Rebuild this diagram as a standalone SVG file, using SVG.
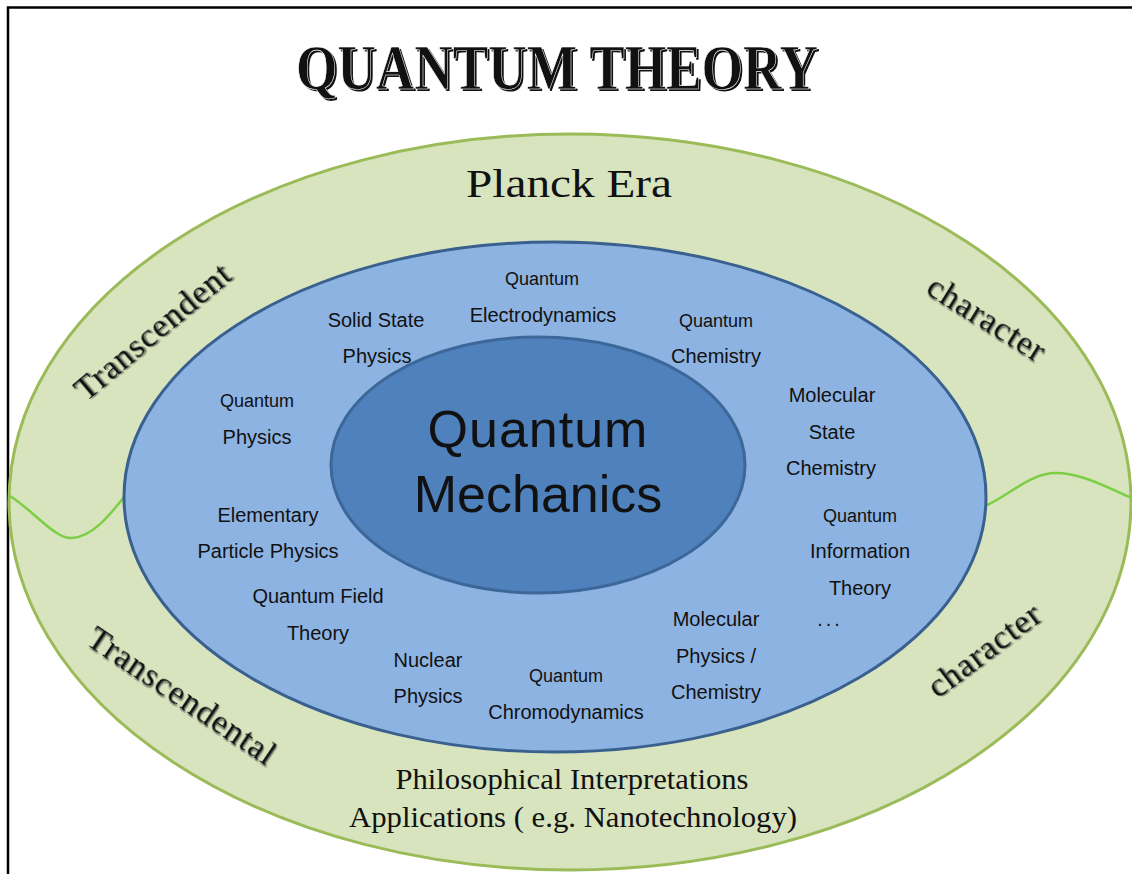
<svg xmlns="http://www.w3.org/2000/svg" width="1132" height="874" viewBox="0 0 1132 874">
<defs>
<style>
.hand{font-family:"Liberation Sans","DejaVu Sans",sans-serif;fill:#111;text-anchor:middle}
.s{font-size:18px}
.m{font-size:20px}
.ser{font-family:"Liberation Serif","DejaVu Serif",serif;fill:#111;text-anchor:middle}
.arc{font-size:34px;letter-spacing:1px}
</style>
<filter id="sh" x="-10%" y="-30%" width="120%" height="160%">
<feDropShadow dx="1.5" dy="1.5" stdDeviation="0.6" flood-color="#555" flood-opacity="0.8"/>
</filter>
</defs>
<rect x="0" y="0" width="1132" height="874" fill="#ffffff"/>
<path d="M8,874 L8,7.5 L1132,7.5" fill="none" stroke="#000" stroke-width="2.5"/>

<g id="title">
<text x="557" y="89" class="ser" font-size="64" font-weight="bold" textLength="522" lengthAdjust="spacingAndGlyphs" fill="#999" transform="translate(2,2)">QUANTUM THEORY</text>
<text x="557" y="89" class="ser" font-size="64" font-weight="bold" textLength="522" lengthAdjust="spacingAndGlyphs" stroke="#fff" stroke-width="0.6">QUANTUM THEORY</text>
</g>

<g id="outer">
<ellipse cx="570" cy="502" rx="561" ry="368" fill="#d7e4bd" stroke="#9bbb59" stroke-width="3"/>
</g>
<g id="dividers" fill="none" stroke="#7ccf45" stroke-width="2.5">
<path d="M10,496 C35,512 55,539 72,538 C92,537 110,515 124,497"/>
<path d="M987,505 C1010,495 1030,473 1056,473 C1082,473 1108,488 1132,498"/>
</g>
<g id="outer-labels">
<text class="ser" font-size="40" x="569" y="197" textLength="206" lengthAdjust="spacingAndGlyphs">Planck Era</text>
<text class="ser arc" filter="url(#sh)" transform="translate(160,340) rotate(-40)">Transcendent</text>
<text class="ser arc" filter="url(#sh)" transform="translate(981,328) rotate(32)">character</text>
<text class="ser arc" filter="url(#sh)" transform="translate(176,705) rotate(34)">Transcendental</text>
<text class="ser arc" filter="url(#sh)" transform="translate(991,659) rotate(-37)">character</text>
<text class="ser" font-size="29" x="572" y="789" textLength="353" lengthAdjust="spacingAndGlyphs">Philosophical Interpretations</text>
<text class="ser" font-size="29" x="573" y="827" textLength="448" lengthAdjust="spacingAndGlyphs">Applications ( e.g. Nanotechnology)</text>
</g>

<g id="middle">
<ellipse cx="555" cy="497" rx="431" ry="255" fill="#8db3e2" stroke="#3a6090" stroke-width="3"/>
</g>
<g id="core">
<ellipse cx="538" cy="465" rx="207" ry="128" fill="#4f81bd" stroke="#3e6799" stroke-width="3"/>
<text class="hand" font-size="52" x="538" y="447" letter-spacing="1">Quantum</text>
<text class="hand" font-size="52" x="538" y="512">Mechanics</text>
</g>

<g id="qed"><text class="hand s" x="542" y="285">Quantum</text><text class="hand m" x="543" y="322">Electrodynamics</text></g>
<g id="solid-state"><text class="hand m" x="376" y="327">Solid State</text><text class="hand m" x="377" y="363">Physics</text></g>
<g id="quantum-chemistry"><text class="hand s" x="716" y="327">Quantum</text><text class="hand m" x="716" y="363">Chemistry</text></g>
<g id="molecular-state"><text class="hand m" x="832" y="402">Molecular</text><text class="hand m" x="832" y="439">State</text><text class="hand m" x="831" y="475">Chemistry</text></g>
<g id="quantum-physics"><text class="hand s" x="257" y="407">Quantum</text><text class="hand m" x="257" y="444">Physics</text></g>
<g id="elementary"><text class="hand m" x="268" y="522">Elementary</text><text class="hand m" x="268" y="558">Particle Physics</text></g>
<g id="qft"><text class="hand m" x="318" y="603">Quantum Field</text><text class="hand m" x="318" y="640">Theory</text></g>
<g id="nuclear"><text class="hand m" x="428" y="667">Nuclear</text><text class="hand m" x="428" y="703">Physics</text></g>
<g id="qcd"><text class="hand s" x="566" y="682">Quantum</text><text class="hand m" x="566" y="719">Chromodynamics</text></g>
<g id="molecular-physics"><text class="hand m" x="716" y="626">Molecular</text><text class="hand m" x="716" y="663">Physics /</text><text class="hand m" x="716" y="699">Chemistry</text></g>
<g id="qit"><text class="hand s" x="860" y="522">Quantum</text><text class="hand m" x="860" y="558">Information</text><text class="hand m" x="860" y="595">Theory</text></g>
<g id="more"><text class="hand m" x="830" y="626" letter-spacing="3">...</text></g>
</svg>
